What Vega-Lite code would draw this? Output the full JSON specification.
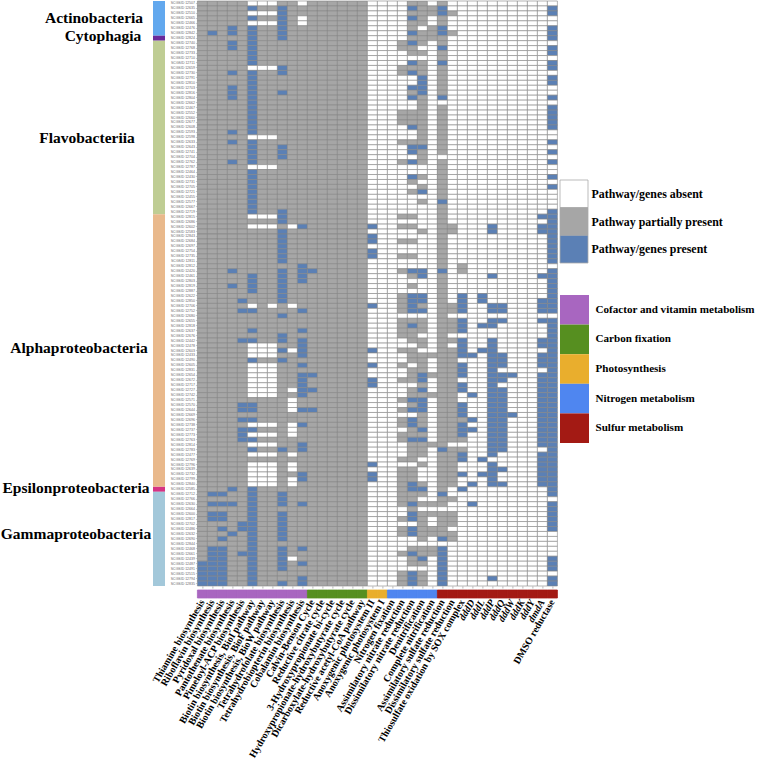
{"$schema":"https://vega.github.io/schema/vega-lite/v6.json","padding":0,"background":"white","config":{"view":{"stroke":null},"axis":{"title":null}},
"datasets":{
"taxa":[{"t":"Actinobacteria","a":0,"b":7,"at":3.4},{"t":"Cytophagia","a":7,"b":8,"at":7},{"t":"Flavobacteriia","a":8,"b":43,"at":27.6},{"t":"Alphaproteobacteria","a":43,"b":98,"at":70},{"t":"Epsilonproteobacteria","a":98,"b":99,"at":98.2},{"t":"Gammaproteobacteria","a":99,"b":118,"at":107.5}],
"columns":[{"name":"Thiamine biosynthesis","group":"Cofactor and vitamin metabolism"},{"name":"Riboflavin biosynthesis","group":"Cofactor and vitamin metabolism"},{"name":"Pyridoxal biosynthesis","group":"Cofactor and vitamin metabolism"},{"name":"Pantothenate biosynthesis","group":"Cofactor and vitamin metabolism"},{"name":"Pimeloyl-ACP biosynthesis","group":"Cofactor and vitamin metabolism"},{"name":"Biotin biosynthesis, BioI pathway","group":"Cofactor and vitamin metabolism"},{"name":"Biotin biosynthesis, BioF pathway","group":"Cofactor and vitamin metabolism"},{"name":"Biotin biosynthesis, BioW pathway","group":"Cofactor and vitamin metabolism"},{"name":"Tetrahydrofolate biosynthesis","group":"Cofactor and vitamin metabolism"},{"name":"Tetrahydrobiopterin biosynthesis","group":"Cofactor and vitamin metabolism"},{"name":"Cobalamin biosynthesis","group":"Cofactor and vitamin metabolism"},{"name":"Calvin-Benson Cycle","group":"Carbon fixation"},{"name":"Reductive citrate cycle","group":"Carbon fixation"},{"name":"3-Hydroxypropionate bi-cycle","group":"Carbon fixation"},{"name":"Hydroxypropionate-hydroxybutyrate cycle","group":"Carbon fixation"},{"name":"Dicarboxylate-hydroxybutyrate cycle","group":"Carbon fixation"},{"name":"Reductive acetyl-CoA pathway","group":"Carbon fixation"},{"name":"Anoxygenic photosystem II","group":"Photosynthesis"},{"name":"Anoxygenic photosystem I","group":"Photosynthesis"},{"name":"Nitrogen fixation","group":"Nitrogen metabolism"},{"name":"Assimilatory nitrate reduction","group":"Nitrogen metabolism"},{"name":"Dissimilatory nitrate reduction","group":"Nitrogen metabolism"},{"name":"Denitrification","group":"Nitrogen metabolism"},{"name":"Complete nitrification","group":"Nitrogen metabolism"},{"name":"Assimilatory sulfate reduction","group":"Sulfur metabolism"},{"name":"Dissimilatory sulfate reduction","group":"Sulfur metabolism"},{"name":"Thiosulfate oxidation by SOX complex","group":"Sulfur metabolism"},{"name":"dddD","group":"Sulfur metabolism"},{"name":"dddL","group":"Sulfur metabolism"},{"name":"dddP","group":"Sulfur metabolism"},{"name":"dddQ","group":"Sulfur metabolism"},{"name":"dddW","group":"Sulfur metabolism"},{"name":"dddK","group":"Sulfur metabolism"},{"name":"dddY","group":"Sulfur metabolism"},{"name":"dmdA","group":"Sulfur metabolism"},{"name":"DMSO reductase","group":"Sulfur metabolism"}],
"rows":[
{"id":"SCGSID 12507","v":[1,1,1,1,1,0,0,0,1,1,0,1,1,1,1,1,1,0,0,0,0,1,1,0,1,0,0,0,0,0,0,0,0,0,0,0]},
{"id":"SCGSID 12635","v":[1,1,1,1,1,2,1,1,2,1,1,1,1,1,1,1,1,0,0,0,0,2,1,1,2,0,0,0,0,0,0,0,0,0,0,2]},
{"id":"SCGSID 12510","v":[1,1,1,1,1,0,0,0,2,1,1,1,1,1,1,1,1,0,0,0,0,1,1,1,2,1,0,0,0,0,0,0,0,0,0,2]},
{"id":"SCGSID 12665","v":[1,1,1,1,1,2,1,1,2,1,0,1,1,1,1,1,1,0,0,0,0,2,1,0,1,0,0,0,0,0,0,0,0,0,0,0]},
{"id":"SCGSID 12466","v":[1,1,1,1,1,0,0,0,2,1,0,1,1,1,1,1,1,0,0,0,0,1,1,0,1,0,0,0,0,0,0,0,0,0,0,0]},
{"id":"SCGSID 12476","v":[1,1,1,2,1,2,1,1,2,1,1,1,1,1,1,1,1,0,0,0,0,1,0,1,2,0,0,0,0,0,0,0,0,0,0,2]},
{"id":"SCGSID 12842","v":[1,2,1,2,1,2,1,1,2,1,1,1,1,1,1,1,1,0,0,0,0,2,1,1,2,1,0,0,0,0,0,0,0,0,0,2]},
{"id":"SCGSID 12824","v":[1,1,1,1,1,2,1,1,2,1,1,1,1,1,1,1,1,0,0,0,0,1,1,1,1,0,0,0,0,0,0,0,0,0,0,2]},
{"id":"SCGSID 12740","v":[1,1,1,2,1,2,1,1,1,1,1,1,1,1,1,1,1,0,0,0,1,2,1,0,1,0,0,0,0,0,0,0,0,0,0,0]},
{"id":"SCGSID 12768","v":[1,1,1,2,1,2,1,1,1,1,1,1,1,1,1,1,1,0,0,0,1,1,0,0,2,0,0,0,0,0,0,0,0,0,0,2]},
{"id":"SCGSID 12733","v":[1,1,1,1,1,2,1,1,1,1,1,1,1,1,1,1,1,0,0,0,0,1,1,0,1,0,0,0,0,0,0,0,0,0,0,2]},
{"id":"SCGSID 12710","v":[1,1,1,1,1,2,1,1,1,1,1,1,1,1,1,1,1,0,0,0,0,0,0,0,1,0,0,0,0,0,0,0,0,0,0,0]},
{"id":"SCGSID 12711","v":[1,1,1,1,1,2,1,1,1,1,1,1,1,1,1,1,1,0,0,0,0,2,1,0,2,0,0,0,0,0,0,0,0,0,0,2]},
{"id":"SCGSID 12659","v":[1,1,1,1,1,0,0,0,2,1,1,1,1,1,1,1,1,0,0,0,1,1,1,0,1,0,0,0,0,0,0,0,0,0,0,2]},
{"id":"SCGSID 12730","v":[1,1,1,2,1,2,1,1,2,1,1,1,1,1,1,1,1,0,0,0,1,2,1,0,1,0,0,0,0,0,0,0,0,0,0,0]},
{"id":"SCGSID 12791","v":[1,1,1,1,1,2,1,1,1,1,1,1,1,1,1,1,1,0,0,0,0,0,2,0,1,0,0,0,0,0,0,0,0,0,0,2]},
{"id":"SCGSID 12810","v":[1,1,1,1,1,2,1,1,1,1,1,1,1,1,1,1,1,0,0,0,0,0,2,0,1,0,0,0,0,0,0,0,0,0,0,2]},
{"id":"SCGSID 12703","v":[1,1,1,2,1,2,1,1,1,1,1,1,1,1,1,1,1,0,0,0,0,2,2,0,1,0,0,0,0,0,0,0,0,0,0,0]},
{"id":"SCGSID 12816","v":[1,1,1,2,1,2,1,1,2,1,1,1,1,1,1,1,1,0,0,0,0,1,2,0,1,0,0,0,0,0,0,0,0,0,0,0]},
{"id":"SCGSID 12804","v":[1,1,1,2,1,2,1,1,1,1,1,1,1,1,1,1,1,0,0,0,0,2,1,0,2,0,0,0,0,0,0,0,0,0,0,2]},
{"id":"SCGSID 12662","v":[1,1,1,1,1,2,1,1,1,1,1,1,1,1,1,1,1,0,0,0,0,0,1,0,0,0,0,0,0,0,0,0,0,0,0,0]},
{"id":"SCGSID 12467","v":[1,1,1,1,1,2,1,1,1,1,1,1,1,1,1,1,1,0,0,0,0,0,1,0,1,0,0,0,0,0,0,0,0,0,0,2]},
{"id":"SCGSID 12552","v":[1,1,1,1,1,2,1,1,1,1,1,1,1,1,1,1,1,0,0,0,1,1,1,0,1,0,0,0,0,0,0,0,0,0,0,2]},
{"id":"SCGSID 12660","v":[1,1,1,1,1,2,1,1,1,1,1,1,1,1,1,1,1,0,0,0,1,1,1,0,1,0,0,0,0,0,0,0,0,0,0,2]},
{"id":"SCGSID 12677","v":[1,1,1,1,1,2,1,1,1,1,1,1,1,1,1,1,1,0,0,0,1,1,1,0,1,0,0,0,0,0,0,0,0,0,0,2]},
{"id":"SCGSID 12608","v":[1,1,1,1,1,2,1,1,1,1,1,1,1,1,1,1,1,0,0,0,0,2,1,0,1,0,0,0,0,0,0,0,0,0,0,2]},
{"id":"SCGSID 12593","v":[1,1,1,2,1,2,1,1,1,1,1,1,1,1,1,1,1,0,0,0,0,0,1,0,1,0,0,0,0,0,0,0,0,0,0,0]},
{"id":"SCGSID 12598","v":[1,1,1,1,1,0,0,0,1,1,1,1,1,1,1,1,1,0,0,0,0,0,1,0,1,0,0,0,0,0,0,0,0,0,0,0]},
{"id":"SCGSID 12633","v":[1,1,1,2,1,2,1,1,1,1,1,1,1,1,1,1,1,0,0,0,1,1,1,0,1,0,0,0,0,0,0,0,0,0,0,2]},
{"id":"SCGSID 12643","v":[1,1,1,1,1,2,1,1,2,1,1,1,1,1,1,1,1,0,0,0,0,2,2,0,1,0,0,0,0,0,0,0,0,0,0,0]},
{"id":"SCGSID 12741","v":[1,1,1,1,1,2,1,1,2,1,1,1,1,1,1,1,1,0,0,0,0,2,1,0,1,0,0,0,0,0,0,0,0,0,0,2]},
{"id":"SCGSID 12704","v":[1,1,1,1,1,2,1,1,2,1,1,1,1,1,1,1,1,0,0,0,0,0,1,0,0,0,0,0,0,0,0,0,0,0,0,0]},
{"id":"SCGSID 12762","v":[1,1,1,2,1,2,1,1,1,1,1,1,1,1,1,1,1,0,0,0,1,2,1,0,1,0,0,0,0,0,0,0,0,0,0,2]},
{"id":"SCGSID 12787","v":[1,1,1,1,1,0,0,0,1,1,1,1,1,1,1,1,1,0,0,0,0,0,0,0,1,0,0,0,0,0,0,0,0,0,0,0]},
{"id":"SCGSID 12464","v":[1,1,1,1,1,2,1,1,1,1,1,1,1,1,1,1,1,0,0,0,0,0,0,0,1,0,0,0,0,0,0,0,0,0,0,0]},
{"id":"SCGSID 12430","v":[1,1,1,1,1,2,1,1,1,1,1,1,1,1,1,1,1,0,0,0,0,2,1,0,1,0,0,0,0,0,0,0,0,0,0,2]},
{"id":"SCGSID 12731","v":[1,1,1,1,1,2,1,1,1,1,1,1,1,1,1,1,1,0,0,0,0,1,0,0,1,0,0,0,0,0,0,0,0,0,0,0]},
{"id":"SCGSID 12705","v":[1,1,1,1,1,2,1,1,1,1,1,1,1,1,1,1,1,0,0,0,0,0,1,0,1,0,0,0,0,0,0,0,0,0,0,2]},
{"id":"SCGSID 12721","v":[1,1,1,1,1,2,1,1,1,1,1,1,1,1,1,1,1,0,0,0,0,1,2,0,1,0,0,0,0,0,0,0,0,0,0,0]},
{"id":"SCGSID 12455","v":[1,1,1,1,1,2,1,1,1,1,1,1,1,1,1,1,1,0,0,0,0,0,0,0,1,0,0,0,0,0,0,0,0,0,0,0]},
{"id":"SCGSID 12577","v":[1,1,1,1,1,2,1,1,1,1,1,1,1,1,1,1,1,0,0,0,0,0,1,0,2,0,0,0,0,0,0,0,0,0,0,0]},
{"id":"SCGSID 12667","v":[1,1,1,1,1,2,1,1,1,1,1,1,1,1,1,1,1,0,0,0,0,0,0,0,1,0,0,0,0,0,0,0,0,0,0,0]},
{"id":"SCGSID 12719","v":[1,1,1,1,1,2,1,1,2,1,1,1,1,1,1,1,1,0,0,0,0,0,0,0,1,0,0,0,0,0,0,0,0,0,0,2]},
{"id":"SCGSID 12815","v":[1,1,1,1,1,0,0,0,2,1,1,1,1,1,1,1,1,0,0,0,1,1,0,0,1,0,0,0,0,0,0,0,0,0,2,2]},
{"id":"SCGSID 12686","v":[1,1,1,1,1,1,1,1,2,1,1,1,1,1,1,1,1,0,0,0,0,0,0,0,1,0,0,0,0,0,0,0,0,0,0,2]},
{"id":"SCGSID 12602","v":[1,1,1,1,1,0,0,0,1,0,2,1,1,1,1,1,1,2,0,0,1,1,0,0,1,1,0,0,0,2,0,0,0,0,2,2]},
{"id":"SCGSID 12583","v":[1,1,1,1,1,1,1,1,2,1,1,1,1,1,1,1,1,0,0,0,0,0,1,0,1,1,0,0,0,2,0,0,0,0,2,2]},
{"id":"SCGSID 12843","v":[1,1,1,1,1,1,1,1,2,1,1,1,1,1,1,1,1,2,0,0,0,0,0,0,1,0,0,0,0,0,0,0,0,0,0,2]},
{"id":"SCGSID 12684","v":[1,1,1,1,1,1,1,1,2,1,1,1,1,1,1,1,1,2,0,0,1,1,0,0,1,0,0,0,0,0,0,0,0,0,0,2]},
{"id":"SCGSID 12697","v":[1,1,1,1,1,1,1,1,2,1,1,1,1,1,1,1,1,0,0,0,0,0,0,0,1,0,0,0,0,0,0,0,0,0,0,2]},
{"id":"SCGSID 12754","v":[1,1,1,1,1,1,1,1,2,1,1,1,1,1,1,1,1,2,0,0,0,0,0,0,1,0,0,0,0,0,0,0,0,0,0,2]},
{"id":"SCGSID 12735","v":[1,1,1,1,1,1,1,1,2,1,1,1,1,1,1,1,1,2,0,0,1,1,0,0,1,0,0,0,0,0,0,0,0,0,0,2]},
{"id":"SCGSID 12811","v":[1,1,1,1,1,1,1,1,2,1,1,1,1,1,1,1,1,0,0,0,0,0,0,0,1,0,0,0,0,0,0,0,0,0,0,2]},
{"id":"SCGSID 12812","v":[1,1,1,1,1,1,1,1,1,1,2,1,1,1,1,1,1,0,0,0,0,0,0,0,1,0,1,0,0,0,0,0,0,0,0,0]},
{"id":"SCGSID 12420","v":[1,1,1,2,1,1,1,1,2,1,2,2,1,1,1,1,1,0,0,0,1,2,2,0,2,0,1,0,0,0,0,0,0,0,0,2]},
{"id":"SCGSID 12461","v":[1,1,1,1,1,2,1,1,2,1,2,1,1,1,1,1,1,0,0,0,0,1,2,0,1,0,0,0,0,2,0,0,0,0,2,2]},
{"id":"SCGSID 12803","v":[1,1,1,1,1,2,1,1,2,1,2,1,1,1,1,1,1,0,0,0,0,0,0,0,1,0,0,0,0,0,0,0,0,0,0,2]},
{"id":"SCGSID 12819","v":[1,1,1,2,1,2,1,1,2,1,1,1,1,1,1,1,1,0,0,0,0,1,0,0,1,0,0,0,0,0,0,0,0,0,0,2]},
{"id":"SCGSID 12887","v":[1,1,1,1,1,2,1,1,2,1,1,1,1,1,1,1,1,0,0,0,0,0,0,0,1,0,0,0,0,0,0,0,0,0,0,2]},
{"id":"SCGSID 12622","v":[1,1,1,1,1,1,1,1,2,1,1,1,1,1,1,1,1,0,0,0,1,2,2,0,1,0,2,0,2,0,0,0,0,0,0,2]},
{"id":"SCGSID 12850","v":[1,1,1,1,2,1,1,1,2,1,1,1,1,1,1,1,1,0,0,0,1,2,2,0,1,0,2,0,2,0,0,0,0,0,2,2]},
{"id":"SCGSID 12706","v":[1,1,1,1,1,0,1,0,1,0,1,1,1,1,1,1,1,2,0,0,1,2,1,0,1,1,2,0,0,2,2,0,0,0,2,2]},
{"id":"SCGSID 12752","v":[1,1,1,1,2,2,1,1,1,1,2,1,1,1,1,1,1,0,0,0,1,2,2,0,1,1,2,0,0,2,2,0,0,0,2,2]},
{"id":"SCGSID 12680","v":[1,1,1,1,1,1,1,1,2,1,1,1,1,1,1,1,1,0,0,0,0,0,0,0,1,0,0,0,0,0,0,0,0,0,0,0]},
{"id":"SCGSID 12655","v":[1,1,1,1,1,1,1,1,1,1,1,1,1,1,1,1,1,0,0,0,1,1,1,0,1,1,2,0,0,2,2,0,0,0,2,2]},
{"id":"SCGSID 12818","v":[1,1,1,1,1,1,1,1,1,1,1,1,1,1,1,1,1,0,0,0,1,2,1,0,1,1,2,0,2,2,0,0,0,0,0,2]},
{"id":"SCGSID 12637","v":[1,1,1,1,1,2,1,1,1,1,2,1,1,1,1,1,1,0,0,0,1,1,1,0,1,1,2,0,0,0,0,0,0,0,0,2]},
{"id":"SCGSID 12676","v":[1,1,1,1,1,1,1,1,2,1,1,1,1,1,1,1,1,0,0,0,1,1,0,0,1,0,0,0,0,0,0,0,0,0,0,2]},
{"id":"SCGSID 12442","v":[1,1,1,1,2,2,1,1,2,1,2,1,1,1,1,1,1,0,0,0,0,1,1,0,1,1,2,0,0,2,0,0,0,0,2,2]},
{"id":"SCGSID 12478","v":[1,1,1,1,1,0,0,0,1,1,2,1,1,1,1,1,1,0,0,0,0,0,1,0,1,0,2,0,0,2,0,0,0,0,2,2]},
{"id":"SCGSID 12603","v":[1,1,1,1,1,0,0,0,2,0,2,1,1,1,1,1,1,2,0,0,1,1,0,0,1,1,2,0,2,2,0,0,0,0,0,2]},
{"id":"SCGSID 12433","v":[1,1,1,1,1,0,0,0,1,1,2,1,1,1,1,1,1,0,0,0,0,1,1,1,1,1,2,2,0,2,2,0,0,0,2,2]},
{"id":"SCGSID 12490","v":[1,1,1,1,1,2,1,1,2,1,1,1,1,1,1,1,1,0,0,0,0,1,1,0,1,1,0,0,0,2,2,0,0,0,2,2]},
{"id":"SCGSID 12605","v":[1,1,1,1,1,0,0,0,1,1,2,1,1,1,1,1,1,2,0,0,1,0,1,0,1,1,2,0,0,2,2,0,0,0,2,2]},
{"id":"SCGSID 12831","v":[1,1,1,1,1,0,0,0,1,1,1,1,1,1,1,1,1,0,0,0,0,1,1,0,1,1,2,0,0,2,0,0,0,0,0,2]},
{"id":"SCGSID 12654","v":[1,1,1,1,1,0,0,0,1,1,2,2,1,1,1,1,1,0,0,0,0,1,2,1,1,1,2,0,0,2,2,2,0,0,2,2]},
{"id":"SCGSID 12672","v":[1,1,1,1,1,0,0,0,1,1,2,1,1,1,1,1,1,2,0,0,1,1,2,0,1,1,0,0,0,2,2,0,0,0,2,2]},
{"id":"SCGSID 12717","v":[1,1,1,1,1,0,0,0,1,1,2,1,1,1,1,1,1,2,0,0,0,0,1,0,1,1,2,0,0,2,0,0,0,0,2,2]},
{"id":"SCGSID 12727","v":[1,1,1,1,1,0,0,0,1,0,2,2,1,1,1,1,1,0,0,0,0,1,2,0,1,1,2,0,0,2,2,0,0,0,2,2]},
{"id":"SCGSID 12742","v":[1,1,1,1,1,0,0,0,1,1,2,1,1,1,1,1,1,0,0,0,0,1,1,1,1,1,0,2,0,2,2,0,0,0,2,2]},
{"id":"SCGSID 12571","v":[1,1,1,1,1,1,1,1,1,0,1,1,1,1,1,1,1,0,0,0,1,2,2,0,1,1,0,0,0,2,2,0,0,0,2,2]},
{"id":"SCGSID 12570","v":[1,1,1,1,2,2,1,1,1,0,1,1,1,1,1,1,1,0,0,0,0,1,2,0,1,1,2,0,0,2,2,0,0,0,2,2]},
{"id":"SCGSID 12644","v":[1,1,1,1,2,2,1,1,1,0,2,2,1,1,1,1,1,0,0,0,1,2,2,0,1,1,2,0,0,2,2,0,0,0,2,2]},
{"id":"SCGSID 12669","v":[1,1,1,1,1,1,1,1,1,1,1,1,1,1,1,1,1,0,0,0,0,0,1,0,1,1,2,0,0,2,2,2,0,0,2,2]},
{"id":"SCGSID 12696","v":[1,1,1,1,2,2,1,1,1,1,1,1,1,1,1,1,1,0,0,0,1,2,1,0,1,1,1,2,0,2,2,0,0,0,2,2]},
{"id":"SCGSID 12738","v":[1,1,1,1,1,0,0,0,1,0,2,1,1,1,1,1,1,0,0,0,1,2,1,0,1,1,2,0,0,2,2,0,0,0,2,2]},
{"id":"SCGSID 12737","v":[1,1,1,1,2,2,1,1,1,0,1,1,1,1,1,1,1,0,0,0,0,1,2,0,1,1,2,2,0,2,2,0,0,0,2,2]},
{"id":"SCGSID 12773","v":[1,1,1,1,2,0,0,0,1,0,1,1,1,1,1,1,1,0,0,0,1,1,1,0,1,1,2,0,0,2,2,0,0,0,2,2]},
{"id":"SCGSID 12763","v":[1,1,1,1,2,2,1,1,1,1,1,1,1,1,1,1,1,0,0,0,1,2,2,0,1,1,1,0,0,2,2,0,0,0,2,2]},
{"id":"SCGSID 12814","v":[1,1,1,1,1,0,0,0,1,1,2,1,1,1,1,1,1,0,0,0,0,1,1,1,1,0,0,0,0,2,2,0,0,0,2,2]},
{"id":"SCGSID 12783","v":[1,1,1,1,1,2,1,1,2,1,2,1,1,1,1,1,1,0,0,0,0,1,1,0,2,1,1,0,0,2,2,0,0,0,0,2]},
{"id":"SCGSID 12477","v":[1,1,1,1,1,0,0,0,1,0,1,1,1,1,1,1,1,0,0,0,0,1,1,0,1,1,2,0,0,2,0,0,0,0,2,2]},
{"id":"SCGSID 12769","v":[1,1,1,1,1,1,1,1,1,1,1,1,1,1,1,1,1,0,0,0,1,1,0,0,1,1,2,0,2,0,0,0,0,0,2,2]},
{"id":"SCGSID 12796","v":[1,1,1,1,1,0,0,0,1,0,1,1,1,1,1,1,1,2,0,0,0,0,1,0,1,1,0,0,0,2,0,0,0,0,2,2]},
{"id":"SCGSID 12639","v":[1,1,1,1,1,0,0,0,1,0,1,1,1,1,1,1,1,0,0,0,1,1,0,0,1,1,0,0,0,2,2,0,0,0,2,2]},
{"id":"SCGSID 12732","v":[1,1,1,1,1,0,0,0,1,1,2,1,1,1,1,1,1,2,0,0,1,1,0,0,1,1,2,0,2,2,0,0,0,0,2,2]},
{"id":"SCGSID 12799","v":[1,1,1,1,1,0,0,0,1,0,2,1,1,1,1,1,1,2,0,0,1,1,0,0,1,1,0,0,0,2,0,0,0,0,2,2]},
{"id":"SCGSID 12840","v":[1,1,1,1,1,0,0,0,1,0,1,1,1,1,1,1,1,0,0,0,1,2,1,0,1,1,0,2,0,2,2,0,0,0,2,2]},
{"id":"SCGSID 12585","v":[1,1,1,2,1,2,1,1,1,1,1,1,1,1,1,1,1,0,0,0,1,2,2,0,1,0,2,0,0,0,0,0,0,0,0,2]},
{"id":"SCGSID 12712","v":[1,2,2,1,1,2,1,1,2,1,1,1,1,1,1,1,1,0,0,0,1,1,1,0,2,0,0,0,0,0,0,0,0,0,0,2]},
{"id":"SCGSID 12766","v":[1,1,1,1,1,2,1,1,2,1,1,1,1,1,1,1,1,0,0,0,1,1,0,0,1,1,0,0,0,0,0,0,0,0,0,0]},
{"id":"SCGSID 12630","v":[1,2,2,2,1,2,1,1,2,1,2,1,1,1,1,1,1,0,0,0,1,2,1,1,1,0,0,2,0,0,0,0,0,0,0,2]},
{"id":"SCGSID 12664","v":[1,1,1,1,1,2,1,1,1,1,1,1,1,1,1,1,1,0,0,0,0,1,0,0,0,0,0,0,0,0,0,0,0,0,0,2]},
{"id":"SCGSID 12600","v":[1,2,2,1,1,2,1,1,2,1,1,1,1,1,1,1,1,0,0,0,0,2,1,1,1,1,0,0,0,0,0,0,0,0,0,2]},
{"id":"SCGSID 12817","v":[1,2,2,1,1,2,1,1,2,1,1,1,1,1,1,1,1,0,0,0,1,2,1,0,1,1,0,0,0,0,0,0,0,0,0,2]},
{"id":"SCGSID 12702","v":[1,1,1,1,2,2,1,1,2,1,1,1,1,1,1,1,1,0,0,0,0,0,1,0,1,1,0,0,0,0,0,0,0,0,0,2]},
{"id":"SCGSID 12486","v":[1,1,2,1,2,2,1,1,2,1,1,1,1,1,1,1,1,0,0,0,1,2,1,1,1,0,0,0,0,0,0,0,0,0,0,2]},
{"id":"SCGSID 12632","v":[1,1,1,2,1,2,1,1,2,1,1,1,1,1,1,1,1,0,0,0,1,2,1,1,1,1,0,0,0,0,0,0,0,0,0,0]},
{"id":"SCGSID 12690","v":[1,1,2,1,1,2,1,1,2,1,1,1,1,1,1,1,1,0,0,0,0,0,1,0,2,1,0,0,0,0,0,0,0,0,0,0]},
{"id":"SCGSID 12844","v":[1,1,1,1,1,2,1,1,1,1,1,1,1,1,1,1,1,0,0,0,0,0,0,0,0,0,0,0,0,0,0,0,0,0,0,0]},
{"id":"SCGSID 12468","v":[1,2,2,1,1,2,1,1,2,1,2,1,1,1,1,1,1,0,0,0,0,1,1,1,2,0,0,0,0,0,0,0,0,0,0,0]},
{"id":"SCGSID 12661","v":[1,2,2,1,2,2,1,1,2,1,1,1,1,1,1,1,1,0,0,0,1,2,1,1,2,0,0,0,0,0,0,0,0,0,0,0]},
{"id":"SCGSID 12439","v":[1,2,2,1,1,2,1,1,2,0,1,1,1,1,1,1,1,0,0,0,0,1,2,0,2,0,0,0,0,0,0,0,0,0,0,2]},
{"id":"SCGSID 12487","v":[2,2,2,1,1,2,1,1,2,1,2,1,1,1,1,1,1,0,0,0,0,1,1,0,2,0,0,0,0,0,0,0,0,0,0,2]},
{"id":"SCGSID 12491","v":[2,2,2,1,1,2,1,1,2,1,1,1,1,1,1,1,1,0,0,0,0,0,0,0,2,0,0,0,0,0,0,0,0,0,0,2]},
{"id":"SCGSID 12515","v":[2,2,2,1,1,2,1,1,1,1,1,1,1,1,1,1,1,0,0,0,1,2,1,0,2,0,0,0,0,0,0,0,0,0,0,0]},
{"id":"SCGSID 12794","v":[2,2,2,1,1,2,1,1,1,1,2,1,1,1,1,1,1,0,0,0,1,2,1,0,2,0,0,0,0,2,0,0,0,0,0,2]},
{"id":"SCGSID 12835","v":[2,2,2,1,1,2,1,1,2,1,2,1,1,1,1,1,1,0,0,0,1,2,1,0,2,0,0,0,0,0,0,0,0,0,0,2]}
]},
"resolve":{"scale":{"color":"independent"}},"spacing":1,
"hconcat":[
{"spacing":-14.6,"resolve":{"scale":{"color":"independent"}},"hconcat":[
{"spacing":1,"resolve":{"scale":{"color":"independent"}},"hconcat":[
{"width":152,"height":585,"data":{"name":"taxa"},
 "encoding":{"y":{"field":"at","type":"quantitative","scale":{"domain":[118,0],"nice":false,"zero":false},"axis":null},"text":{"field":"t"}},
 "layer":[
 {"transform":[{"filter":"datum.t=='Actinobacteria'"}],"mark":{"type":"text","font":"Liberation Serif","fontWeight":"bold","fontSize":15.5,"color":"#000","dx":18}},
 {"transform":[{"filter":"datum.t=='Cytophagia'"}],"mark":{"type":"text","font":"Liberation Serif","fontWeight":"bold","fontSize":15.5,"color":"#000","dx":27}},
 {"transform":[{"filter":"datum.t=='Flavobacteriia'"}],"mark":{"type":"text","font":"Liberation Serif","fontWeight":"bold","fontSize":15.5,"color":"#000","dx":11}},
 {"transform":[{"filter":"datum.t=='Alphaproteobacteria'"}],"mark":{"type":"text","font":"Liberation Serif","fontWeight":"bold","fontSize":15.5,"color":"#000","dx":3}},
 {"transform":[{"filter":"datum.t=='Epsilonproteobacteria'||datum.t=='Gammaproteobacteria'"}],"mark":{"type":"text","font":"Liberation Serif","fontWeight":"bold","fontSize":15.5,"color":"#000"}}
 ]},
{"width":12,"height":585,"data":{"name":"taxa"},"mark":{"type":"rect"},
 "encoding":{"y":{"field":"a","type":"quantitative","scale":{"domain":[118,0],"nice":false,"zero":false},"axis":null},"y2":{"field":"b"},
 "color":{"field":"t","type":"nominal","legend":null,"scale":{"domain":["Actinobacteria","Cytophagia","Flavobacteriia","Alphaproteobacteria","Epsilonproteobacteria","Gammaproteobacteria"],"range":["#62a8ee","#6a2a9a","#bfcd94","#e9b98c","#d63384","#a3c8da"]}}}}
]},
{"spacing":0,"resolve":{"scale":{"color":"independent","stroke":"independent"}},"vconcat":[
 {"width":360,"height":585,"data":{"name":"rows"},"transform":[{"flatten":["v"]},{"window":[{"op":"row_number","as":"i"}],"groupby":["id"]}],
  "mark":{"type":"rect","stroke":"#858585","strokeWidth":0.6},
  "encoding":{"x":{"field":"i","type":"ordinal","scale":{"paddingInner":0,"paddingOuter":0},"axis":{"labels":false,"domain":false,"tickSize":2,"tickColor":"#888","tickWidth":0.6}},
  "y":{"field":"id","type":"nominal","sort":null,"scale":{"paddingInner":0,"paddingOuter":0},"axis":{"domain":false,"tickSize":2,"tickColor":"#999","tickWidth":0.5,"labelFont":"Liberation Sans","labelFontSize":3.5,"labelColor":"#666","labelPadding":1,"labelOverlap":false,"minExtent":30.7,"maxExtent":30.7}},
  "color":{"field":"v","type":"nominal","legend":null,"scale":{"domain":[0,1,2],"range":["#ffffff","#a6a6a6","#5b80b5"]}}}},
 {"width":360,"height":8,"data":{"name":"columns"},"mark":{"type":"rect","strokeWidth":0.8},
  "encoding":{"x":{"field":"name","type":"nominal","sort":null,"scale":{"paddingInner":0,"paddingOuter":0},"axis":{"domain":false,"ticks":false,"labelAngle":-60,"labelAlign":"right","labelBaseline":"middle","labelPadding":2,"labelFont":"Liberation Serif","labelFontWeight":"bold","labelFontSize":9.9,"labelColor":"#000","labelLimit":400,"labelOverlap":false,"labelFontStyle":{"condition":{"test":"slice(datum.label,0,3)=='ddd'||slice(datum.label,0,3)=='dmd'","value":"italic"},"value":"normal"}}},
  "color":{"field":"group","type":"nominal","legend":null,"scale":{"domain":["Cofactor and vitamin metabolism","Carbon fixation","Photosynthesis","Nitrogen metabolism","Sulfur metabolism"],"range":["#a866c0","#568f20","#e9ae2d","#4f86f0","#a31a14"]}},
  "stroke":{"field":"group","type":"nominal","legend":null,"scale":{"domain":["Cofactor and vitamin metabolism","Carbon fixation","Photosynthesis","Nitrogen metabolism","Sulfur metabolism"],"range":["#a866c0","#568f20","#e9ae2d","#4f86f0","#a31a14"]}}}}
]}
]},
{"spacing":31,"resolve":{"scale":{"color":"independent"}},"vconcat":[
 {"width":28,"height":147,"data":{"values":[{"a":1}]},"mark":{"type":"rect","opacity":0},"encoding":{}},
 {"width":28,"height":83,"data":{"values":[{"s":"Pathway/genes absent"},{"s":"Pathway partially present"},{"s":"Pathway/genes present"}]},"mark":{"type":"rect","stroke":"#aaaaaa","strokeWidth":0.8},
  "encoding":{"y":{"field":"s","type":"nominal","sort":null,"scale":{"paddingInner":0,"paddingOuter":0},"axis":{"orient":"right","domain":false,"ticks":false,"labelFont":"Liberation Serif","labelFontWeight":"bold","labelFontSize":11.9,"labelColor":"#000","labelPadding":3,"labelLimit":300}},
  "color":{"field":"s","type":"nominal","legend":null,"scale":{"domain":["Pathway/genes absent","Pathway partially present","Pathway/genes present"],"range":["#ffffff","#a6a6a6","#5b80b5"]}}}},
 {"width":29,"height":148,"data":{"values":[{"s":"Cofactor and vitamin metabolism"},{"s":"Carbon fixation"},{"s":"Photosynthesis"},{"s":"Nitrogen metabolism"},{"s":"Sulfur metabolism"}]},"mark":{"type":"rect"},
  "encoding":{"y":{"field":"s","type":"nominal","sort":null,"scale":{"paddingInner":0,"paddingOuter":0},"axis":{"orient":"right","domain":false,"ticks":false,"labelFont":"Liberation Serif","labelFontWeight":"bold","labelFontSize":11.1,"labelColor":"#000","labelPadding":6,"labelLimit":300}},
  "color":{"field":"s","type":"nominal","legend":null,"scale":{"domain":["Cofactor and vitamin metabolism","Carbon fixation","Photosynthesis","Nitrogen metabolism","Sulfur metabolism"],"range":["#a866c0","#568f20","#e9ae2d","#4f86f0","#a31a14"]}}}}
]}
]}
